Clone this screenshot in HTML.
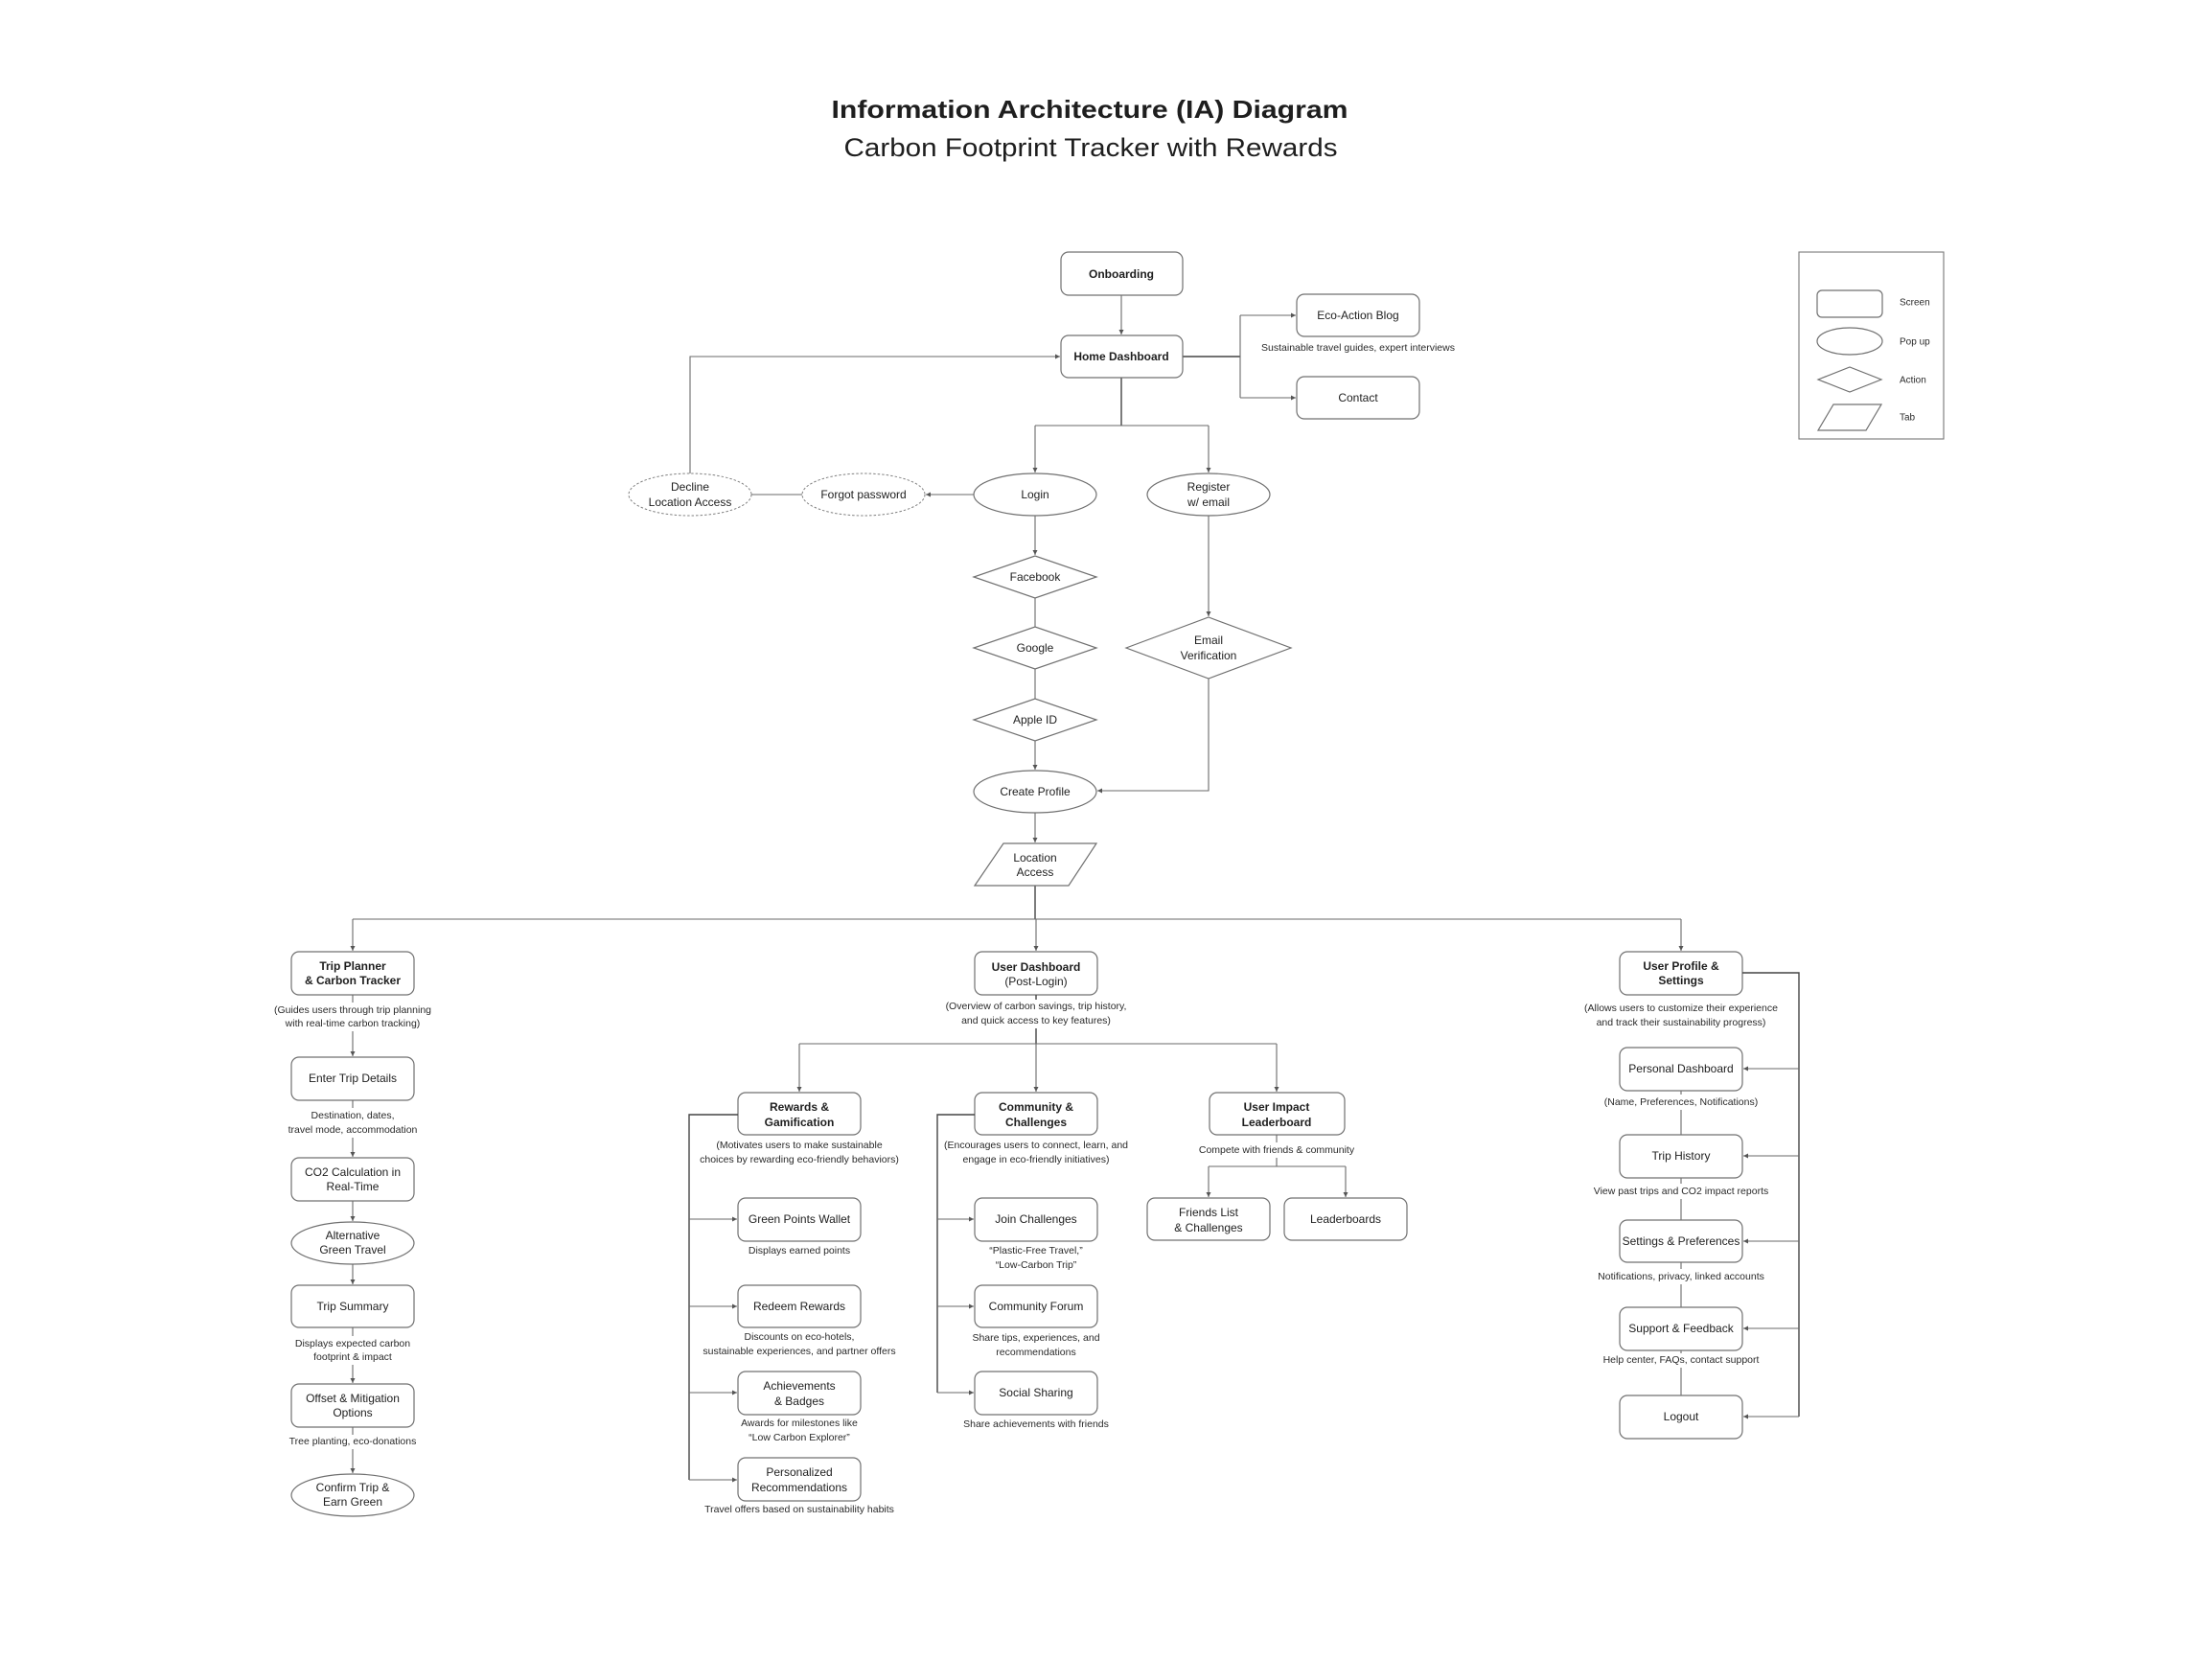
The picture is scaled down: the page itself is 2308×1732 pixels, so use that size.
<!DOCTYPE html>
<html><head><meta charset="utf-8"><style>
html,body{margin:0;padding:0;background:#fff;}
svg{display:block;}
text{font-family:"Liberation Sans",sans-serif;fill:#1e1e1e;}
.t{font-size:12px;text-anchor:middle;dominant-baseline:central;}
.tb{font-size:12px;font-weight:bold;text-anchor:middle;dominant-baseline:central;}
.d{font-size:10.5px;text-anchor:middle;dominant-baseline:central;fill:#2a2a2a;}
.lg{font-size:10px;dominant-baseline:central;fill:#2a2a2a;}
.b{fill:#fff;stroke:#707070;stroke-width:1.2;}
.ds{fill:#fff;stroke:#808080;stroke-width:1;stroke-dasharray:2.5 2;}
.l{fill:none;stroke:#6a6a6a;stroke-width:1.1;}
.lk{fill:none;stroke:#444;stroke-width:1.4;}
.la{fill:none;stroke:#6a6a6a;stroke-width:1.1;marker-end:url(#a);}
.lka{fill:none;stroke:#444;stroke-width:1.3;marker-end:url(#a);}
</style></head><body>
<svg width="2308" height="1732" viewBox="0 0 2308 1732" xmlns="http://www.w3.org/2000/svg">
<defs>
<marker id="a" viewBox="0 0 10 10" refX="10" refY="5" markerWidth="5" markerHeight="5" markerUnits="userSpaceOnUse" orient="auto"><path d="M0,0 L10,5 L0,10 z" fill="#555"/></marker>
</defs>
<rect width="2308" height="1732" fill="#fff"/>

<!-- Title -->
<text x="1137" y="123" text-anchor="middle" font-size="26" font-weight="bold" textLength="539" lengthAdjust="spacingAndGlyphs">Information Architecture (IA) Diagram</text>
<text x="1138" y="163" text-anchor="middle" font-size="27" textLength="515" lengthAdjust="spacingAndGlyphs">Carbon Footprint Tracker with Rewards</text>

<!-- Legend -->
<rect x="1877" y="263" width="151" height="195" fill="#fff" stroke="#777" stroke-width="1.1"/>
<rect x="1896" y="303" width="68" height="28" rx="5" class="b"/>
<text x="1982" y="316" class="lg">Screen</text>
<ellipse cx="1930" cy="356" rx="34" ry="14" class="b"/>
<text x="1982" y="357" class="lg">Pop up</text>
<polygon points="1897,396 1930,383 1963,396 1930,409" class="b"/>
<text x="1982" y="397" class="lg">Action</text>
<polygon points="1913,422 1963,422 1947,449 1897,449" class="b"/>
<text x="1982" y="436" class="lg">Tab</text>

<!-- Top connectors -->
<path class="la" d="M1170,308 V349"/>
<path class="lk" d="M1234,372 H1294"/>
<path class="l" d="M1294,329 V415"/>
<path class="la" d="M1294,329 H1352"/>
<path class="la" d="M1294,415 H1352"/>
<path class="lk" d="M1170,394 V444"/>
<path class="l" d="M1080,444 H1261"/>
<path class="la" d="M1080,444 V493"/>
<path class="la" d="M1261,444 V493"/>
<path class="l" d="M720,494 V372 H1106" marker-end="url(#a)"/>
<path class="la" d="M1016,516 H966"/>
<path class="l" d="M784,516 H837"/>
<path class="la" d="M1080,538 V579"/>
<path class="l" d="M1080,624 V654"/>
<path class="l" d="M1080,698 V729"/>
<path class="la" d="M1080,773 V803"/>
<path class="la" d="M1261,538 V643"/>
<path class="l" d="M1261,708 V825 H1145" marker-end="url(#a)"/>
<path class="la" d="M1080,848 V879"/>
<path class="lk" d="M1080,924 V959"/>

<!-- Top nodes -->
<rect x="1107" y="263" width="127" height="45" rx="8" class="b"/>
<text x="1170" y="286" class="tb">Onboarding</text>
<rect x="1107" y="350" width="127" height="44" rx="8" class="b"/>
<text x="1170" y="372" class="tb">Home Dashboard</text>
<rect x="1353" y="307" width="128" height="44" rx="8" class="b"/>
<text x="1417" y="329" class="t">Eco-Action Blog</text>
<text x="1417" y="363" class="d">Sustainable travel guides, expert interviews</text>
<rect x="1353" y="393" width="128" height="44" rx="8" class="b"/>
<text x="1417" y="415" class="t">Contact</text>

<ellipse cx="1080" cy="516" rx="64" ry="22" class="b"/>
<text x="1080" y="516" class="t">Login</text>
<ellipse cx="1261" cy="516" rx="64" ry="22" class="b"/>
<text x="1261" y="508" class="t">Register</text>
<text x="1261" y="524" class="t">w/ email</text>
<ellipse cx="901" cy="516" rx="64" ry="22" class="ds"/>
<text x="901" y="516" class="t">Forgot password</text>
<ellipse cx="720" cy="516" rx="64" ry="22" class="ds"/>
<text x="720" y="508" class="t">Decline</text>
<text x="720" y="524" class="t">Location Access</text>

<polygon points="1016,602 1080,580 1144,602 1080,624" class="b"/>
<text x="1080" y="602" class="t">Facebook</text>
<polygon points="1016,676 1080,654 1144,676 1080,698" class="b"/>
<text x="1080" y="676" class="t">Google</text>
<polygon points="1016,751 1080,729 1144,751 1080,773" class="b"/>
<text x="1080" y="751" class="t">Apple ID</text>
<polygon points="1175,676 1261,644 1347,676 1261,708" class="b"/>
<text x="1261" y="668" class="t">Email</text>
<text x="1261" y="684" class="t">Verification</text>
<ellipse cx="1080" cy="826" rx="64" ry="22" class="b"/>
<text x="1080" y="826" class="t">Create Profile</text>
<polygon points="1047,880 1144,880 1115,924 1017,924" class="b"/>
<text x="1080" y="895" class="t">Location</text>
<text x="1080" y="910" class="t">Access</text>

<!-- Main bus -->
<path class="l" d="M368,959 H1754"/>
<path class="la" d="M368,959 V992"/>
<path class="la" d="M1081,959 V992"/>
<path class="la" d="M1754,959 V992"/>

<!-- Trip Planner column -->
<rect x="304" y="993" width="128" height="45" rx="8" class="b"/>
<text x="368" y="1008" class="tb">Trip Planner</text>
<text x="368" y="1023" class="tb">&amp; Carbon Tracker</text>
<text x="368" y="1054" class="d">(Guides users through trip planning</text>
<text x="368" y="1068" class="d">with real-time carbon tracking)</text>
<path class="l" d="M368,1038 V1046"/>
<path class="la" d="M368,1076 V1102"/>
<rect x="304" y="1103" width="128" height="45" rx="8" class="b"/>
<text x="368" y="1125" class="t">Enter Trip Details</text>
<text x="368" y="1164" class="d">Destination, dates,</text>
<text x="368" y="1179" class="d">travel mode, accommodation</text>
<path class="l" d="M368,1148 V1156"/>
<path class="la" d="M368,1187 V1207"/>
<rect x="304" y="1208" width="128" height="45" rx="8" class="b"/>
<text x="368" y="1223" class="t">CO2 Calculation in</text>
<text x="368" y="1238" class="t">Real-Time</text>
<path class="la" d="M368,1253 V1274"/>
<ellipse cx="368" cy="1297" rx="64" ry="22" class="b"/>
<text x="368" y="1289" class="t">Alternative</text>
<text x="368" y="1304" class="t">Green Travel</text>
<path class="la" d="M368,1319 V1340"/>
<rect x="304" y="1341" width="128" height="44" rx="8" class="b"/>
<text x="368" y="1363" class="t">Trip Summary</text>
<text x="368" y="1402" class="d">Displays expected carbon</text>
<text x="368" y="1416" class="d">footprint &amp; impact</text>
<path class="l" d="M368,1385 V1394"/>
<path class="la" d="M368,1424 V1443"/>
<rect x="304" y="1444" width="128" height="45" rx="8" class="b"/>
<text x="368" y="1459" class="t">Offset &amp; Mitigation</text>
<text x="368" y="1474" class="t">Options</text>
<text x="368" y="1504" class="d">Tree planting, eco-donations</text>
<path class="l" d="M368,1489 V1497"/>
<path class="la" d="M368,1512 V1537"/>
<ellipse cx="368" cy="1560" rx="64" ry="22" class="b"/>
<text x="368" y="1552" class="t">Confirm Trip &amp;</text>
<text x="368" y="1567" class="t">Earn Green</text>

<!-- User Dashboard -->
<rect x="1017" y="993" width="128" height="45" rx="8" class="b"/>
<text x="1081" y="1009" class="tb">User Dashboard</text>
<text x="1081" y="1024" class="t">(Post-Login)</text>
<text x="1081" y="1050" class="d">(Overview of carbon savings, trip history,</text>
<text x="1081" y="1065" class="d">and quick access to key features)</text>
<path class="lk" d="M1081,1038 V1043"/>
<path class="lk" d="M1081,1073 V1089"/>
<path class="l" d="M834,1089 H1332"/>
<path class="la" d="M834,1089 V1139"/>
<path class="la" d="M1081,1089 V1139"/>
<path class="la" d="M1332,1089 V1139"/>

<!-- Rewards -->
<rect x="770" y="1140" width="128" height="44" rx="8" class="b"/>
<text x="834" y="1155" class="tb">Rewards &amp;</text>
<text x="834" y="1171" class="tb">Gamification</text>
<text x="834" y="1195" class="d">(Motivates users to make sustainable</text>
<text x="834" y="1210" class="d">choices by rewarding eco-friendly behaviors)</text>
<path class="lk" d="M770,1163 H719 V1544"/>
<path class="la" d="M719,1272 H769"/>
<path class="la" d="M719,1363 H769"/>
<path class="la" d="M719,1453 H769"/>
<path class="la" d="M719,1544 H769"/>
<rect x="770" y="1250" width="128" height="45" rx="8" class="b"/>
<text x="834" y="1272" class="t">Green Points Wallet</text>
<text x="834" y="1305" class="d">Displays earned points</text>
<rect x="770" y="1341" width="128" height="44" rx="8" class="b"/>
<text x="834" y="1363" class="t">Redeem Rewards</text>
<text x="834" y="1395" class="d">Discounts on eco-hotels,</text>
<text x="834" y="1410" class="d">sustainable experiences, and partner offers</text>
<rect x="770" y="1431" width="128" height="45" rx="8" class="b"/>
<text x="834" y="1446" class="t">Achievements</text>
<text x="834" y="1462" class="t">&amp; Badges</text>
<text x="834" y="1485" class="d">Awards for milestones like</text>
<text x="834" y="1500" class="d">“Low Carbon Explorer”</text>
<rect x="770" y="1521" width="128" height="45" rx="8" class="b"/>
<text x="834" y="1536" class="t">Personalized</text>
<text x="834" y="1552" class="t">Recommendations</text>
<text x="834" y="1575" class="d">Travel offers based on sustainability habits</text>

<!-- Community -->
<rect x="1017" y="1140" width="128" height="44" rx="8" class="b"/>
<text x="1081" y="1155" class="tb">Community &amp;</text>
<text x="1081" y="1171" class="tb">Challenges</text>
<text x="1081" y="1195" class="d">(Encourages users to connect, learn, and</text>
<text x="1081" y="1210" class="d">engage in eco-friendly initiatives)</text>
<path class="lk" d="M1017,1163 H978 V1453"/>
<path class="la" d="M978,1272 H1016"/>
<path class="la" d="M978,1363 H1016"/>
<path class="la" d="M978,1453 H1016"/>
<rect x="1017" y="1250" width="128" height="45" rx="8" class="b"/>
<text x="1081" y="1272" class="t">Join Challenges</text>
<text x="1081" y="1305" class="d">“Plastic-Free Travel,”</text>
<text x="1081" y="1320" class="d">“Low-Carbon Trip”</text>
<rect x="1017" y="1341" width="128" height="44" rx="8" class="b"/>
<text x="1081" y="1363" class="t">Community Forum</text>
<text x="1081" y="1396" class="d">Share tips, experiences, and</text>
<text x="1081" y="1411" class="d">recommendations</text>
<rect x="1017" y="1431" width="128" height="45" rx="8" class="b"/>
<text x="1081" y="1453" class="t">Social Sharing</text>
<text x="1081" y="1486" class="d">Share achievements with friends</text>

<!-- User Impact -->
<rect x="1262" y="1140" width="141" height="44" rx="8" class="b"/>
<text x="1332" y="1155" class="tb">User Impact</text>
<text x="1332" y="1171" class="tb">Leaderboard</text>
<text x="1332" y="1200" class="d">Compete with friends &amp; community</text>
<path class="l" d="M1332,1184 V1192"/>
<path class="l" d="M1332,1208 V1217"/>
<path class="l" d="M1261,1217 H1404"/>
<path class="la" d="M1261,1217 V1249"/>
<path class="la" d="M1404,1217 V1249"/>
<rect x="1197" y="1250" width="128" height="44" rx="8" class="b"/>
<text x="1261" y="1265" class="t">Friends List</text>
<text x="1261" y="1281" class="t">&amp; Challenges</text>
<rect x="1340" y="1250" width="128" height="44" rx="8" class="b"/>
<text x="1404" y="1272" class="t">Leaderboards</text>

<!-- User Profile -->
<rect x="1690" y="993" width="128" height="45" rx="8" class="b"/>
<text x="1754" y="1008" class="tb">User Profile &amp;</text>
<text x="1754" y="1023" class="tb">Settings</text>
<text x="1754" y="1052" class="d">(Allows users to customize their experience</text>
<text x="1754" y="1067" class="d">and track their sustainability progress)</text>
<path class="lk" d="M1818,1015 H1877 V1478"/>
<path class="la" d="M1877,1115 H1819"/>
<path class="la" d="M1877,1206 H1819"/>
<path class="la" d="M1877,1295 H1819"/>
<path class="la" d="M1877,1386 H1819"/>
<path class="la" d="M1877,1478 H1819"/>
<path class="l" d="M1754,1138 V1142 M1754,1158 V1184 M1754,1229 V1235 M1754,1251 V1273 M1754,1317 V1324 M1754,1340 V1364 M1754,1409 V1412 M1754,1427 V1456" stroke="#999"/>
<rect x="1690" y="1093" width="128" height="45" rx="8" class="b"/>
<text x="1754" y="1115" class="t">Personal Dashboard</text>
<text x="1754" y="1150" class="d">(Name, Preferences, Notifications)</text>
<rect x="1690" y="1184" width="128" height="45" rx="8" class="b"/>
<text x="1754" y="1206" class="t">Trip History</text>
<text x="1754" y="1243" class="d">View past trips and CO2 impact reports</text>
<rect x="1690" y="1273" width="128" height="44" rx="8" class="b"/>
<text x="1754" y="1295" class="t">Settings &amp; Preferences</text>
<text x="1754" y="1332" class="d">Notifications, privacy, linked accounts</text>
<rect x="1690" y="1364" width="128" height="45" rx="8" class="b"/>
<text x="1754" y="1386" class="t">Support &amp; Feedback</text>
<text x="1754" y="1419" class="d">Help center, FAQs, contact support</text>
<rect x="1690" y="1456" width="128" height="45" rx="8" class="b"/>
<text x="1754" y="1478" class="t">Logout</text>
</svg>
</body></html>
